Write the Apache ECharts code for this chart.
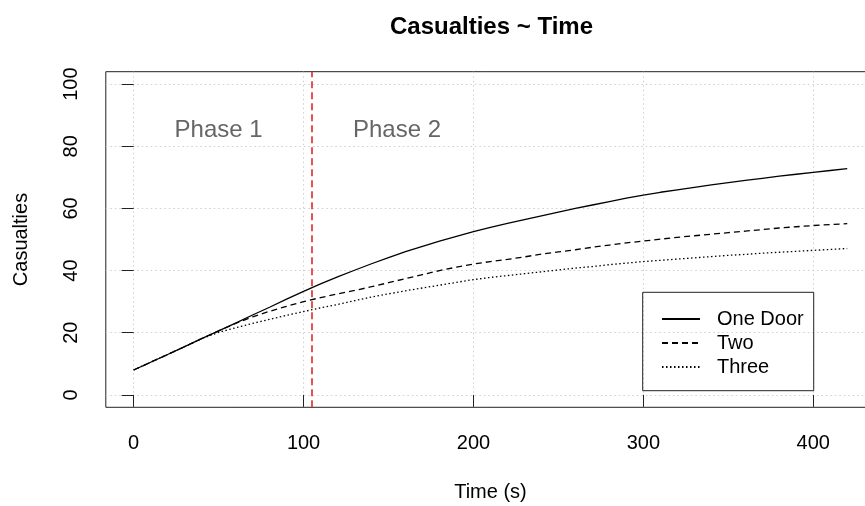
<!DOCTYPE html>
<html>
<head>
<meta charset="utf-8">
<script src="https://cdn.jsdelivr.net/npm/echarts@6/dist/echarts.min.js"></script>
<style>
  html, body { margin: 0; padding: 0; background: #fff; }
  #chart { width: 865px; height: 506px; }
</style>
</head>
<body>
<div id="chart"></div>
<script>
// Time in seconds, one sample every 10 s
const times = [0,10,20,30,40,50,60,70,80,90,100,110,120,130,140,150,160,170,180,190,200,
  210,220,230,240,250,260,270,280,290,300,310,320,330,340,350,360,370,380,390,400,410,420];

// Cumulative casualties for each exit configuration
const oneDoor = [8.0,10.5,13.0,15.5,18.1,20.6,23.1,25.7,28.2,30.8,33.3,35.7,38.0,40.1,42.2,44.2,46.1,47.8,49.5,51.0,52.5,
  53.9,55.2,56.4,57.6,58.8,60.0,61.1,62.2,63.3,64.3,65.2,66.0,66.8,67.6,68.3,69.0,69.7,70.4,71.0,71.6,72.2,72.8];
const twoDoors = [8.0,10.5,13.0,15.5,18.1,20.6,23.0,25.1,26.9,28.5,30.0,31.3,32.5,33.6,34.8,36.1,37.4,38.7,40.0,41.1,42.1,
  42.9,43.6,44.4,45.3,46.0,46.7,47.5,48.2,48.9,49.5,50.1,50.7,51.2,51.7,52.2,52.7,53.2,53.7,54.1,54.5,54.8,55.1];
const threeDoors = [8.0,10.5,13.0,15.5,18.1,20.1,21.6,23.0,24.3,25.6,26.8,28.0,29.1,30.3,31.5,32.5,33.5,34.4,35.3,36.2,37.1,
  37.8,38.4,39.0,39.6,40.2,40.8,41.3,41.9,42.4,42.9,43.3,43.7,44.1,44.5,44.9,45.2,45.6,45.9,46.2,46.5,46.8,47.1];

const seriesNames = ['One Door', 'Two', 'Three'];

// Axis ticks
const xTicks = [0, 100, 200, 300, 400];
const yTicks = [0, 20, 40, 60, 80, 100];

// Phase boundary and phase labels
const phaseBoundary = 105;
const phaseLabels = ['Phase 1', 'Phase 2'];
const phaseLabelX = [50, 155];
const phaseLabelY = [85, 85];

const FONT = '"Liberation Sans", Arial, Helvetica, sans-serif';

function pairs(ys) { return times.map((t, i) => [t, ys[i]]); }

const chart = echarts.init(document.getElementById('chart'), null, { renderer: 'canvas' });

const lineBase = {
  type: 'line',
  showSymbol: false,
  symbol: 'none',
  smooth: false,
  silent: true,
  z: 3
};

chart.setOption({
  animation: false,
  backgroundColor: '#fff',
  title: {
    text: 'Casualties ~ Time',
    left: 385,
    top: 10,
    textStyle: { fontFamily: FONT, fontSize: 24, fontWeight: 'bold', color: '#000' }
  },
  grid: {
    left: 105.8,
    top: 71.7,
    width: 769.3,
    height: 335.6,
    outerBoundsMode: 'none',
    containLabel: false,
    show: true,
    borderColor: '#222',
    borderWidth: 1,
    backgroundColor: 'transparent'
  },
  xAxis: {
    type: 'value',
    min: -16.4,
    max: 436.4,
    name: 'Time (s)',
    nameLocation: 'middle',
    nameGap: 75,
    nameTextStyle: { fontFamily: FONT, fontSize: 20, color: '#000' },
    axisLine: { show: false },
    axisTick: { show: true, length: 12, inside: false, customValues: xTicks,
      lineStyle: { color: '#222', width: 1 } },
    axisLabel: { show: true, customValues: xTicks, margin: 26,
      fontFamily: FONT, fontSize: 20, color: '#000' },
    splitLine: { show: true, lineStyle: { color: '#cfcfcf', width: 1, type: [1.5, 3] } }
  },
  yAxis: {
    type: 'value',
    min: -4,
    max: 104,
    name: 'Casualties',
    nameLocation: 'middle',
    nameRotate: 90,
    nameGap: 74,
    nameTextStyle: { fontFamily: FONT, fontSize: 20, color: '#000' },
    axisLine: { show: false },
    axisTick: { show: true, length: 12, inside: false, customValues: yTicks,
      lineStyle: { color: '#222', width: 1 } },
    axisLabel: { show: true, customValues: yTicks, rotate: 90, margin: 24,
      fontFamily: FONT, fontSize: 20, color: '#000' },
    splitLine: { show: true, lineStyle: { color: '#cfcfcf', width: 1, type: [1.5, 3] } }
  },
  legend: {
    data: seriesNames,
    orient: 'vertical',
    left: 642.7,
    top: 292.3,
    selectedMode: false,
    borderColor: '#222',
    borderWidth: 1,
    borderRadius: 0,
    padding: [14.7, 10, 11.7, 18.3],
    itemWidth: 38,
    itemHeight: 14,
    itemGap: 0,
    itemStyle: { color: 'rgba(0,0,0,0)', borderColor: 'rgba(0,0,0,0)', borderWidth: 0, opacity: 0 },
    textStyle: { fontFamily: FONT, fontSize: 20, lineHeight: 24, color: '#000', padding: [0, 0, 0, 12] }
  },
  series: [
    Object.assign({}, lineBase, {
      name: seriesNames[0],
      data: pairs(oneDoor),
      lineStyle: { color: '#000', width: 1.3, type: 'solid' },
      itemStyle: { color: '#000' },
      markLine: {
        silent: true,
        symbol: 'none',
        label: { show: false },
        lineStyle: { color: '#e02828', width: 1.6, type: [7, 4], opacity: 1 },
        data: [{ xAxis: phaseBoundary }]
      },
      markPoint: {
        silent: true,
        symbol: 'rect',
        symbolSize: 0,
        label: {
          show: true,
          position: 'inside',
          fontFamily: FONT,
          fontSize: 24,
          color: '#666',
          formatter: p => p.name
        },
        data: phaseLabels.map((name, i) => ({ name: name, coord: [phaseLabelX[i], phaseLabelY[i]] }))
      }
    }),
    Object.assign({}, lineBase, {
      name: seriesNames[1],
      data: pairs(twoDoors),
      lineStyle: { color: '#000', width: 1.3, type: [6, 4] },
      itemStyle: { color: '#000' }
    }),
    Object.assign({}, lineBase, {
      name: seriesNames[2],
      data: pairs(threeDoors),
      lineStyle: { color: '#000', width: 1.3, type: [1.5, 2.5] },
      itemStyle: { color: '#000' }
    })
  ]
});
</script>
</body>
</html>
